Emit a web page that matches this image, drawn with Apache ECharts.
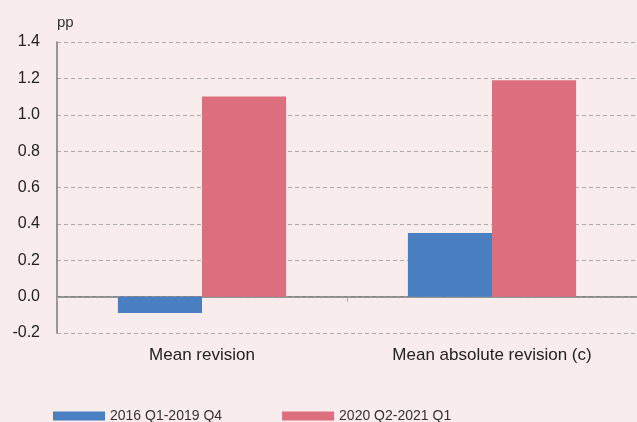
<!DOCTYPE html>
<html><head><meta charset="utf-8">
<script src="https://cdn.jsdelivr.net/npm/echarts@6/dist/echarts.min.js"></script>
<style>html,body{margin:0;padding:0;background:#f9ecec}#c{width:637px;height:422px}</style>
</head><body><div id="c"></div>
<script>
const categories = ['Mean revision', 'Mean absolute revision (c)'];
const seriesNames = ['2016 Q1-2019 Q4', '2020 Q2-2021 Q1'];
const values2016 = [-0.09, 0.35];
const values2020 = [1.10, 1.19];
const yTicks = {min: -0.2, max: 1.4, interval: 0.2};

const chart = echarts.init(document.getElementById('c'));
const font = "'Liberation Sans', Arial, sans-serif";
chart.setOption({
  backgroundColor: '#f9ecec',
  animation: false,
  textStyle: {fontFamily: font},
  grid: {left: 57, right: 0, top: 42, bottom: 89, containLabel: false},
  legend: {
    left: 53, top: 409, padding: 0, itemWidth: 52, itemHeight: 9, itemGap: 60,
    icon: 'rect',
    textStyle: {fontSize: 14, color: '#333', fontFamily: font},
    data: seriesNames
  },
  xAxis: {
    type: 'category', data: categories,
    axisLine: {onZero: true, lineStyle: {color: '#7a7a7a', width: 1.5}},
    axisTick: {show: true, length: 5, lineStyle: {color: '#aaa'}},
    axisLabel: {fontSize: 17, color: '#222', fontFamily: font, margin: 14}
  },
  yAxis: {
    type: 'value', min: yTicks.min, max: yTicks.max, interval: yTicks.interval,
    name: 'pp', nameLocation: 'end', nameGap: 12,
    nameTextStyle: {fontSize: 15, color: '#333', align: 'left', padding: [0, 0, 0, 0]},
    axisLine: {show: true, lineStyle: {color: '#7a7a7a', width: 1.5}},
    axisTick: {show: false},
    axisLabel: {formatter: v => v.toFixed(1), fontSize: 16, color: '#222', margin: 17},
    splitLine: {lineStyle: {color: '#aaa', type: [4, 3]}}
  },
  series: [
    {name: seriesNames[0], type: 'bar', data: values2016, barWidth: '29%', barGap: '0%',
     itemStyle: {color: '#4a7fc1'}},
    {name: seriesNames[1], type: 'bar', data: values2020, barWidth: '29%',
     itemStyle: {color: '#dc6e7e'}}
  ]
});
</script></body></html>
